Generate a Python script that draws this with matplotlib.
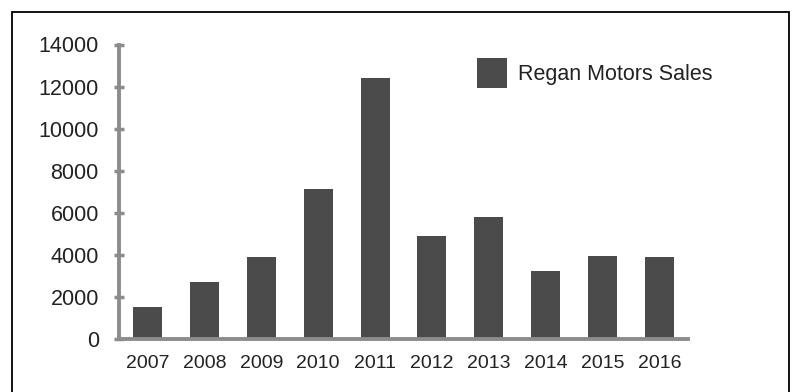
import matplotlib
matplotlib.use("Agg")
import matplotlib.pyplot as plt
from matplotlib.patches import Rectangle

# Sales per year
years = ["2007", "2008", "2009", "2010", "2011", "2012", "2013", "2014", "2015", "2016"]
sales = [1500, 2700, 3900, 7100, 12400, 4900, 5800, 3200, 3950, 3900]
y_ticks = [0, 2000, 4000, 6000, 8000, 10000, 12000, 14000]

plt.rcParams["font.family"] = ["Liberation Sans", "DejaVu Sans"]

W, H = 797, 392
fig = plt.figure(figsize=(W / 100, H / 100), dpi=100)

# axes placed by pixel box: left 119, right 688, top 44.5, bottom 338.7
ax = fig.add_axes([119 / W, (H - 338.7) / H, (688 - 119) / W, (338.7 - 44.5) / H])

bar_color = "#4b4b4b"
axis_color = "#8c8c8c"
text_color = "#222222"

x = list(range(len(years)))
ax.bar(x, sales, width=0.51, color=bar_color, label="Regan Motors Sales", zorder=2)

ax.set_xlim(-0.5, len(years) - 0.5)
ax.set_ylim(0, 14000)
ax.set_yticks(y_ticks)
ax.set_xticks(x)
ax.set_xticklabels(years)

for side in ["top", "right"]:
    ax.spines[side].set_visible(False)
for side in ["left", "bottom"]:
    ax.spines[side].set_color(axis_color)
    ax.spines[side].set_linewidth(2.8)
    ax.spines[side].set_zorder(3)

ax.tick_params(axis="y", direction="inout", length=7, width=2.5, color=axis_color,
               labelsize=15.5, labelcolor=text_color, pad=11)
ax.tick_params(axis="x", length=0, labelsize=14, labelcolor=text_color, pad=12)

leg = ax.legend(loc="upper left", bbox_to_anchor=(0.629, 0.955), frameon=False,
                fontsize=15.5, handlelength=1.4, handleheight=1.75,
                handletextpad=0.5, borderpad=0, borderaxespad=0)
for t in leg.get_texts():
    t.set_color(text_color)

# outer frame (open at the bottom edge of the image)
fig.add_artist(Rectangle((12 / W, -0.05), (789 - 12) / W, 1.05 - 12 / H,
                         transform=fig.transFigure, fill=False,
                         edgecolor="black", linewidth=1.3))

fig.savefig("out.png", dpi=100)
